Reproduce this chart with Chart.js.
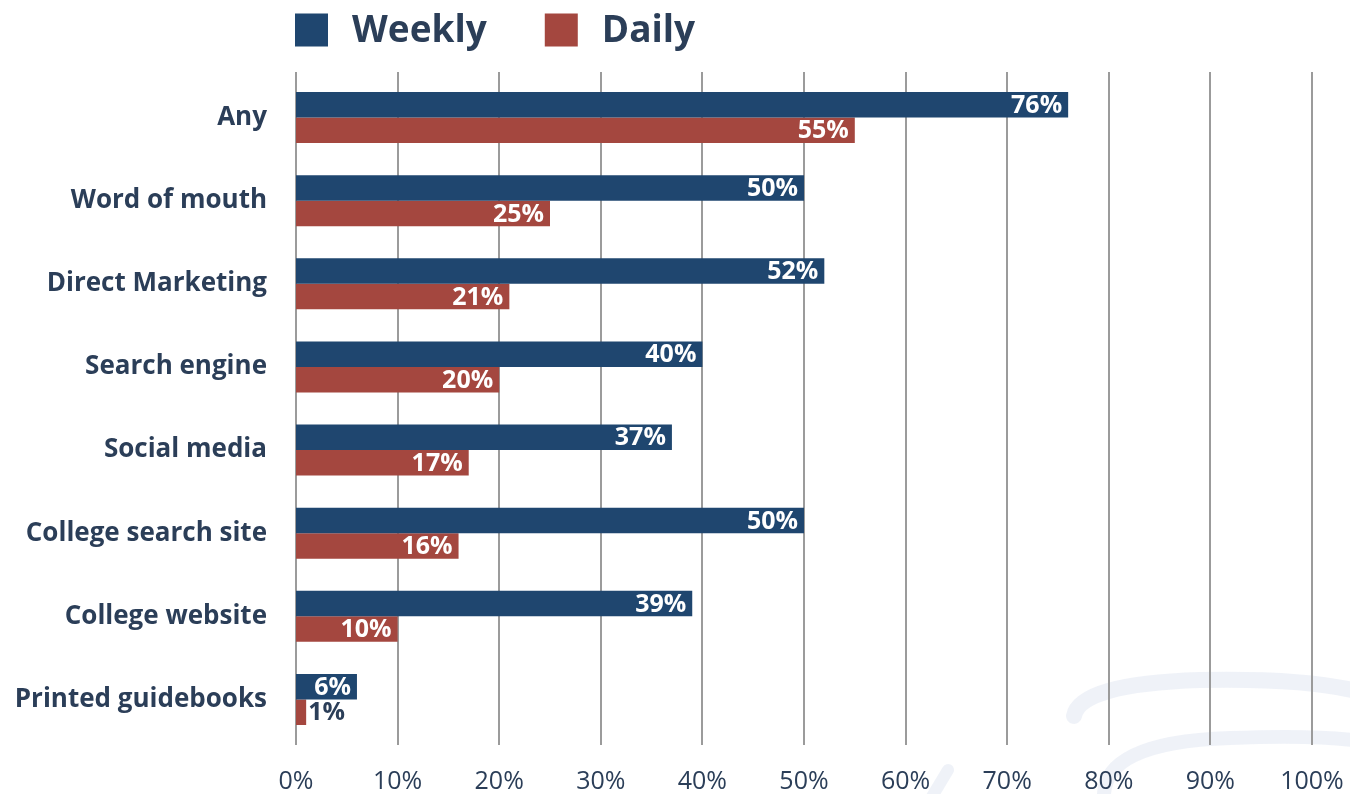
<!DOCTYPE html>
<html>
<head>
<meta charset="utf-8">
<title>Weekly and daily use of information sources</title>
<script src="https://cdn.jsdelivr.net/npm/chart.js@4.4.1/dist/chart.umd.min.js"></script>
<style>
  html, body { margin: 0; padding: 0; background: #ffffff; }
  #wrap { width: 1350px; height: 794px; position: relative; }
</style>
</head>
<body>
<div id="wrap"><canvas id="chart" width="1350" height="794"></canvas></div>
<script>
// Source categories (top to bottom)
const categories = [
  'Any',
  'Word of mouth',
  'Direct Marketing',
  'Search engine',
  'Social media',
  'College search site',
  'College website',
  'Printed guidebooks'
];

// Share of respondents, in percent
const weeklyValues = [76, 50, 52, 40, 37, 50, 39, 6];
const dailyValues  = [55, 25, 21, 20, 17, 16, 10, 1];

// Axis tick values and labels
const tickValues = [0, 10, 20, 30, 40, 50, 60, 70, 80, 90, 100];
const tickLabels = ['0%', '10%', '20%', '30%', '40%', '50%', '60%', '70%', '80%', '90%', '100%'];

const NAVY = '#1f466f';
const RED = '#a4473f';
const TEXT = '#2b3e58';
const GRID = '#9b9b9b';
const FONT = '"Open Sans", "Noto Sans", sans-serif';

// Vertical grid runs a little past the plot area at top and bottom
const GRID_TOP = 72;
const GRID_BOTTOM = 745;

// Faint swoosh decoration in the lower right corner
const swooshPlugin = {
  id: 'swoosh',
  beforeDraw(chart) {
    const ctx = chart.ctx;
    ctx.save();
    ctx.strokeStyle = 'rgba(205, 215, 232, 0.32)';
    ctx.lineCap = 'round';
    ctx.lineWidth = 16;
    ctx.beginPath();
    ctx.moveTo(1074, 716);
    ctx.quadraticCurveTo(1080, 684, 1200, 680);
    ctx.quadraticCurveTo(1300, 678, 1352, 690);
    ctx.stroke();
    ctx.lineWidth = 14;
    ctx.beginPath();
    ctx.moveTo(1104, 800);
    ctx.quadraticCurveTo(1100, 742, 1230, 738);
    ctx.quadraticCurveTo(1310, 735, 1352, 740);
    ctx.stroke();
    ctx.lineWidth = 12;
    ctx.beginPath();
    ctx.moveTo(930, 800);
    ctx.lineTo(948, 770);
    ctx.stroke();
    ctx.restore();
  }
};

// Vertical grid lines at each tick of the value axis
const gridPlugin = {
  id: 'valueGrid',
  beforeDatasetsDraw(chart) {
    const ctx = chart.ctx;
    const xs = chart.scales.x;
    ctx.save();
    ctx.strokeStyle = GRID;
    ctx.lineWidth = 2;
    tickValues.forEach(v => {
      const x = Math.round(xs.getPixelForValue(v));
      ctx.beginPath();
      ctx.moveTo(x, GRID_TOP);
      ctx.lineTo(x, GRID_BOTTOM);
      ctx.stroke();
    });
    ctx.restore();
  }
};

// Legend drawn above the plot, aligned with the left edge of the plot area
const legendPlugin = {
  id: 'topLegend',
  afterDraw(chart) {
    const ctx = chart.ctx;
    const area = chart.chartArea;
    let x = area.left - 1;
    const yMid = 30;
    const box = 33;
    ctx.save();
    ctx.font = 'bold 37px ' + FONT;
    ctx.textBaseline = 'middle';
    ctx.textAlign = 'left';
    chart.data.datasets.forEach(ds => {
      ctx.fillStyle = ds.backgroundColor;
      ctx.fillRect(x, yMid - box / 2, box, box);
      x += box + 24;
      ctx.fillStyle = TEXT;
      ctx.fillText(ds.label, x, yMid + 1);
      x += ctx.measureText(ds.label).width + 58;
    });
    ctx.restore();
  }
};

// Percentage labels at the end of each bar
const valueLabelPlugin = {
  id: 'valueLabels',
  afterDatasetsDraw(chart) {
    const ctx = chart.ctx;
    ctx.save();
    ctx.font = 'bold 25px ' + FONT;
    ctx.textBaseline = 'middle';
    chart.data.datasets.forEach((ds, di) => {
      const meta = chart.getDatasetMeta(di);
      meta.data.forEach((bar, i) => {
        const text = ds.data[i] + '%';
        const w = ctx.measureText(text).width;
        const barLen = bar.x - bar.base;
        if (barLen > w + 12) {
          ctx.textAlign = 'right';
          ctx.fillStyle = '#ffffff';
          ctx.fillText(text, bar.x - 6, bar.y + 1);
        } else {
          ctx.textAlign = 'left';
          ctx.fillStyle = TEXT;
          ctx.fillText(text, bar.x + 2, bar.y + 1);
        }
      });
    });
    ctx.restore();
  }
};

new Chart(document.getElementById('chart'), {
  type: 'bar',
  data: {
    labels: categories,
    datasets: [
      { label: 'Weekly', data: weeklyValues, backgroundColor: NAVY },
      { label: 'Daily', data: dailyValues, backgroundColor: RED }
    ]
  },
  options: {
    indexAxis: 'y',
    responsive: false,
    animation: false,
    devicePixelRatio: 1,
    layout: { padding: { left: 10, right: 38, top: 76, bottom: 0 } },
    datasets: {
      bar: { categoryPercentage: 0.615, barPercentage: 1.0, borderWidth: 0 }
    },
    plugins: {
      legend: { display: false },
      tooltip: { enabled: false }
    },
    scales: {
      x: {
        min: 0,
        max: 100,
        afterBuildTicks(scale) {
          scale.ticks = tickValues.map(v => ({ value: v }));
        },
        afterFit(scale) {
          scale.height = 53;
          scale.paddingLeft = 0;
          scale.paddingRight = 0;
        },
        grid: { display: false, drawTicks: false },
        border: { display: false },
        ticks: {
          padding: 26,
          color: TEXT,
          font: { family: FONT, size: 25 },
          maxRotation: 0,
          callback: (v, i) => tickLabels[i]
        }
      },
      y: {
        afterFit(scale) { scale.width = 286; },
        grid: { display: false, drawTicks: false },
        border: { display: false },
        ticks: {
          padding: 29,
          color: TEXT,
          font: { family: FONT, size: 26, weight: 'bold' }
        }
      }
    }
  },
  plugins: [swooshPlugin, gridPlugin, valueLabelPlugin, legendPlugin]
});
</script>
</body>
</html>
